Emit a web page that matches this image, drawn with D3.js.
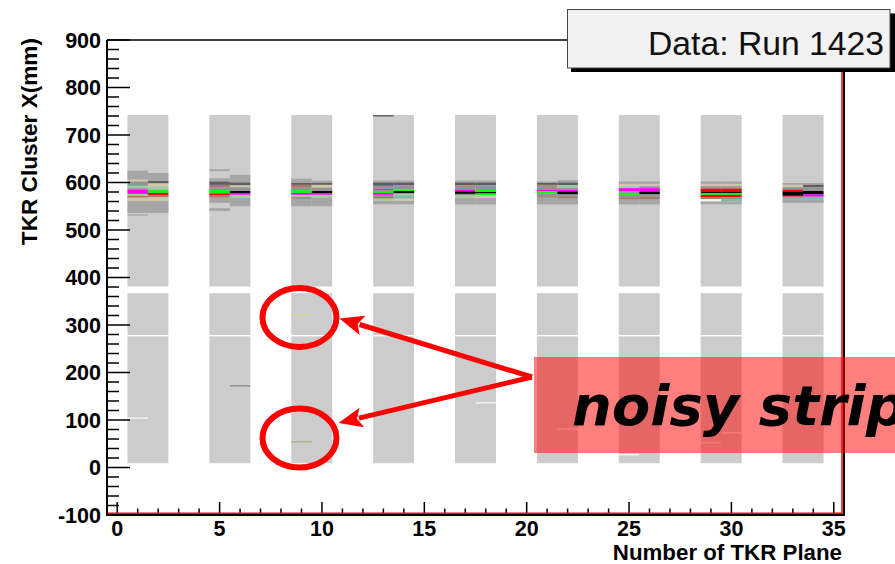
<!DOCTYPE html>
<html><head><meta charset="utf-8">
<script src="https://cdn.jsdelivr.net/npm/d3@7"></script>
<style>html,body{margin:0;padding:0;background:#fff;}svg{display:block;}</style>
</head><body><svg id="c" width="895" height="564"></svg>
<script>
// ---- data ----
const xTicks = [0,5,10,15,20,25,30,35];
const yTicks = [-100,0,100,200,300,400,500,600,700,800,900];
const towerFirstPlanes = [1,5,9,13,17,21,25,29,33];   // each tower covers two planes
const coverage = [[9,276],[279,367],[381,742]];       // occupied X ranges (mm), count 1
// beam spot stripes: [plane, xLow, xHigh, countLevel]
const beamSpot = [
 [1,606,625,2],[1,602,606,5],[1,593,602,3],[1,588,593,7],[1,585,588,3],[1,576,585,10],[1,572,576,7],[1,568,572,6],[1,561,568,5],[1,536,561,2],[1,530,533,2],
 [2,603,620,2],[2,598,603,4],[2,592,598,5],[2,585,592,7],[2,584,585,3],[2,578,584,9],[2,573,578,12],[2,569,573,6],[2,561,569,5],[2,536,561,2],
 [5,624,628,2],[5,602,609,2],[5,595,602,4],[5,590,595,6],[5,584,590,3],[5,577,584,9],[5,573,577,12],[5,568,573,6],[5,557,568,2],[5,540,546,2],
 [6,600,616,2],[6,594,600,4],[6,590,594,5],[6,582,590,3],[6,578,582,11],[6,574,578,10],[6,568,574,7],[6,550,568,2],
 [9,599,608,2],[9,595,599,4],[9,589,595,6],[9,584,589,3],[9,578,584,9],[9,574,578,10],[9,570,574,7],[9,564,570,3],[9,550,564,2],
 [10,599,604,2],[10,595,599,4],[10,589,595,5],[10,582,589,3],[10,577,582,11],[10,574,577,10],[10,568,574,7],[10,550,568,2],
 [13,739,742,4],[13,600,604,2],[13,593,600,4],[13,586,593,3],[13,583,586,10],[13,578,583,9],[13,574,578,10],[13,571,574,3],[13,566,571,6],[13,561,566,7],[13,554,561,2],
 [14,600,604,2],[14,594,600,4],[14,585,594,3],[14,582,585,9],[14,577,582,11],[14,573,577,7],[14,566,573,8],[14,561,566,5],[14,554,561,2],
 [17,600,604,2],[17,594,600,4],[17,585,594,3],[17,581,585,10],[17,576,581,11],[17,573,576,3],[17,567,573,7],[17,554,567,2],
 [18,600,604,2],[18,594,600,4],[18,584,594,3],[18,580,584,9],[18,577,580,11],[18,573,577,9],[18,567,573,5],[18,554,567,2],
 [21,599,602,2],[21,595,599,4],[21,585,595,3],[21,581,585,10],[21,577,581,9],[21,571,577,3],[21,568,571,6],[21,554,568,2],
 [22,600,605,2],[22,594,600,4],[22,589,594,7],[22,584,589,3],[22,581,584,10],[22,575,581,11],[22,570,575,3],[22,566,570,6],[22,554,566,2],
 [25,597,602,2],[25,592,597,5],[25,588,592,7],[25,582,588,10],[25,578,582,3],[25,574,578,9],[25,569,574,3],[25,564,569,6],[25,554,564,2],
 [26,597,602,2],[26,592,597,5],[26,588,592,3],[26,582,588,10],[26,581,582,3],[26,575,581,11],[26,570,575,3],[26,564,570,6],[26,554,564,2],
 [29,597,602,2],[29,592,597,5],[29,587,592,3],[29,581,587,12],[29,578,581,11],[29,574,578,9],[29,569,574,12],[29,565,569,6],[29,560,565,13],[29,554,560,2],
 [30,597,602,2],[30,592,597,5],[30,587,592,3],[30,581,587,12],[30,578,581,11],[30,574,578,9],[30,569,574,12],[30,565,569,3],[30,560,565,8],[30,554,560,2],
 [33,595,599,2],[33,590,595,5],[33,585,590,3],[33,581,585,12],[33,572,581,11],[33,570,572,12],[33,564,570,8],[33,557,564,2],
 [34,595,599,2],[34,590,595,4],[34,582,590,3],[34,575,582,11],[34,570,575,10],[34,564,570,8],[34,557,564,2]
];
// isolated (noisy) hits: [plane, x, countLevel]
const noisyHits = [[1,104,13],[6,172,3],[9,321,14],[9,54,15],[18,136,13],[22,81,13],[25,27,13],[29,52,13],[30,73,13]];
const countLevels = [1,2,3,4,5,6,7,8,9,10,11,12,13,14,15];
const levelColors = ["#cccccc","#a6a6a6","#939393","#5e5e5e","#d2c6a8","#9c7c68","#a4cca4","#82b8a8","#00ff00","#ff00ff","#000000","#ff0000","#f4f4f4","#d8d48a","#b4ae8c"];
const titleText = "Data: Run 1423";
const xTitle = "Number of TKR Plane";
const yTitle = "TKR Cluster X(mm)";
const noteText = "noisy strip";

// ---- chart ----
const svg = d3.select("#c");
const L = 107, R = 844, T = 40, B = 515;
const x = d3.scaleLinear().domain([-0.5, 35.5]).range([L, R]);
const y = d3.scaleLinear().domain([-100, 900]).range([B, T]);
const color = d3.scaleOrdinal().domain(countLevels).range(levelColors);
const font = "'Liberation Sans', Arial, Helvetica, sans-serif";

const plot = svg.append("g");
// coverage blocks
towerFirstPlanes.forEach(p => {
  coverage.forEach(([lo, hi]) => {
    plot.append("rect")
      .attr("x", x(p - 0.5)).attr("width", x(p + 1.5) - x(p - 0.5))
      .attr("y", y(hi)).attr("height", y(lo) - y(hi))
      .attr("fill", color(1));
  });
});
plot.selectAll("rect.bs").data(beamSpot).join("rect").attr("class","bs")
  .attr("x", d => x(d[0] - 0.5)).attr("width", d => x(d[0] + 0.5) - x(d[0] - 0.5))
  .attr("y", d => y(d[2])).attr("height", d => y(d[1]) - y(d[2]))
  .attr("fill", d => color(d[3]));
plot.selectAll("rect.nh").data(noisyHits).join("rect").attr("class","nh")
  .attr("x", d => x(d[0] - 0.5)).attr("width", d => x(d[0] + 0.5) - x(d[0] - 0.5))
  .attr("y", d => y(d[1] + 1.5)).attr("height", d => y(d[1] - 1.5) - y(d[1] + 1.5))
  .attr("fill", d => color(d[2]));

// ticks
const ax = svg.append("g").attr("stroke", "#000").attr("stroke-width", 1.5);
d3.range(-100, 901, 20).forEach(v => {
  const major = v % 100 === 0;
  ax.append("line").attr("x1", L).attr("x2", L + (major ? 23 : 12)).attr("y1", y(v)).attr("y2", y(v));
});
d3.range(0, 36, 1).forEach(v => {
  const major = v % 5 === 0;
  ax.append("line").attr("x1", x(v)).attr("x2", x(v)).attr("y1", B).attr("y2", B - (major ? 13 : 6.5));
});
// frame
svg.append("line").attr("x1", L).attr("x2", R).attr("y1", T).attr("y2", T).attr("stroke", "#000").attr("stroke-width", 1.5);
svg.append("line").attr("x1", R).attr("x2", R).attr("y1", T).attr("y2", B).attr("stroke", "#000").attr("stroke-width", 2);
svg.append("line").attr("x1", R - 2).attr("x2", R - 2).attr("y1", T).attr("y2", B).attr("stroke", "#ff0000").attr("stroke-width", 1.5);
svg.append("line").attr("x1", L).attr("x2", L).attr("y1", T).attr("y2", B + 1).attr("stroke", "#000").attr("stroke-width", 2);
svg.append("line").attr("x1", L).attr("x2", R + 1).attr("y1", B).attr("y2", B).attr("stroke", "#000").attr("stroke-width", 2);
svg.append("line").attr("x1", L + 1).attr("x2", R - 2).attr("y1", B - 1.8).attr("y2", B - 1.8).attr("stroke", "#ff0000").attr("stroke-width", 1.5);

// tick labels
svg.append("g").selectAll("text").data(yTicks).join("text")
  .attr("x", 101).attr("y", d => y(d)).attr("dy", "0.36em")
  .attr("text-anchor", "end").attr("font-family", font).attr("font-weight", "bold").attr("font-size", 21.5)
  .text(d => d);
svg.append("g").selectAll("text").data(xTicks).join("text")
  .attr("x", d => x(d)).attr("y", 536)
  .attr("text-anchor", "middle").attr("font-family", font).attr("font-weight", "bold").attr("font-size", 21.5)
  .text(d => d);
// axis titles
svg.append("text").attr("x", 842).attr("y", 560).attr("text-anchor", "end")
  .attr("font-family", font).attr("font-weight", "bold").attr("font-size", 22.3).text(xTitle);
svg.append("text").attr("transform", "translate(37,38) rotate(-90)").attr("text-anchor", "end")
  .attr("font-family", font).attr("font-weight", "bold").attr("font-size", 22.6).text(yTitle);

// title box
svg.append("rect").attr("x", 571).attr("y", 13.5).attr("width", 324).attr("height", 58.5).attr("fill", "#000");
svg.append("rect").attr("x", 567.5).attr("y", 9.5).attr("width", 322.5).attr("height", 58.5)
  .attr("fill", "#f2f2f2").attr("stroke", "#444").attr("stroke-width", 1);
svg.append("text").attr("x", 884).attr("y", 55).attr("text-anchor", "end")
  .attr("font-family", font).attr("font-size", 33.7).attr("fill", "#111").text(titleText);

// annotation: ellipses around the noisy hits of plane 9
const ann = svg.append("g");
const circ = [[9, 316], [9, 62]];
circ.forEach(([p, v]) => {
  ann.append("ellipse").attr("cx", x(p) - 2).attr("cy", y(v)).attr("rx", 37).attr("ry", 29.5)
    .attr("fill", "none").attr("stroke", "#ff0000").attr("stroke-width", 6);
});
const start = [532, 377];
const tips = [[x(9) + 38, y(316) + 1], [x(9) + 37, y(62) - 15]];
tips.forEach(t => {
  const dx = t[0] - start[0], dy = t[1] - start[1];
  const len = Math.hypot(dx, dy), ux = dx / len, uy = dy / len;
  const hl = 24, hw = 10;
  const bx = t[0] - ux * hl, by = t[1] - uy * hl;
  ann.append("line").attr("x1", start[0]).attr("y1", start[1]).attr("x2", bx + ux * 3).attr("y2", by + uy * 3)
    .attr("stroke", "#ff0000").attr("stroke-width", 5);
  ann.append("polygon").attr("fill", "#ff0000")
    .attr("points", [[t[0], t[1]], [bx - uy * hw, by + ux * hw], [bx + ux * 5, by + uy * 5], [bx + uy * hw, by - ux * hw]].map(q => q.join(",")).join(" "));
});
ann.append("rect").attr("x", 534).attr("y", 357).attr("width", 370).attr("height", 96).attr("fill", "rgba(255,0,0,0.5)");
ann.append("text").attr("x", 572).attr("y", 425)
  .attr("font-family", "'Comic Sans MS', 'DejaVu Sans', sans-serif").attr("font-weight", "bold").attr("font-style", "italic")
  .attr("font-size", 56).attr("fill", "#000").text(noteText);
</script></body></html>
